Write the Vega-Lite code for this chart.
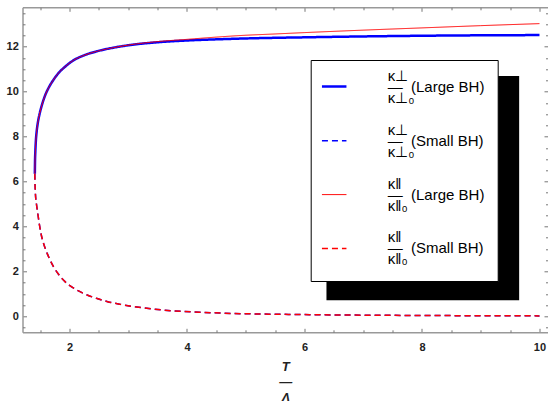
{
  "$schema": "https://vega.github.io/schema/vega-lite/v6.json",
  "width": 525.5,
  "height": 325,
  "autosize": {"type": "none"},
  "padding": {"left": 22.5, "top": 7.3, "right": 0, "bottom": 68.7},
  "background": "white",
  "config": {"view": {"stroke": null}, "font": "Liberation Sans"},
  "datasets": {
    "large_perp": [
      {"series": "pL", "T": 1.410, "k": 6.35},
      {"series": "pL", "T": 1.413, "k": 6.9},
      {"series": "pL", "T": 1.418, "k": 7.3},
      {"series": "pL", "T": 1.426, "k": 7.75},
      {"series": "pL", "T": 1.44, "k": 8.2},
      {"series": "pL", "T": 1.46, "k": 8.6},
      {"series": "pL", "T": 1.49, "k": 9.0},
      {"series": "pL", "T": 1.53, "k": 9.4},
      {"series": "pL", "T": 1.58, "k": 9.8},
      {"series": "pL", "T": 1.64, "k": 10.15},
      {"series": "pL", "T": 1.72, "k": 10.5},
      {"series": "pL", "T": 1.81, "k": 10.82},
      {"series": "pL", "T": 1.92, "k": 11.1},
      {"series": "pL", "T": 2.07, "k": 11.4},
      {"series": "pL", "T": 2.25, "k": 11.62},
      {"series": "pL", "T": 2.47, "k": 11.8},
      {"series": "pL", "T": 2.75, "k": 11.96},
      {"series": "pL", "T": 3.04, "k": 12.08},
      {"series": "pL", "T": 3.5, "k": 12.2},
      {"series": "pL", "T": 4.0, "k": 12.28},
      {"series": "pL", "T": 4.5, "k": 12.33},
      {"series": "pL", "T": 5.0, "k": 12.37},
      {"series": "pL", "T": 6.0, "k": 12.42},
      {"series": "pL", "T": 7.0, "k": 12.46},
      {"series": "pL", "T": 8.0, "k": 12.49},
      {"series": "pL", "T": 9.0, "k": 12.51},
      {"series": "pL", "T": 10.0, "k": 12.52}
    ],
    "large_par": [
      {"series": "qL", "T": 1.410, "k": 6.35},
      {"series": "qL", "T": 1.413, "k": 6.9},
      {"series": "qL", "T": 1.418, "k": 7.3},
      {"series": "qL", "T": 1.426, "k": 7.75},
      {"series": "qL", "T": 1.44, "k": 8.2},
      {"series": "qL", "T": 1.46, "k": 8.6},
      {"series": "qL", "T": 1.49, "k": 9.0},
      {"series": "qL", "T": 1.53, "k": 9.4},
      {"series": "qL", "T": 1.58, "k": 9.8},
      {"series": "qL", "T": 1.64, "k": 10.15},
      {"series": "qL", "T": 1.72, "k": 10.5},
      {"series": "qL", "T": 1.81, "k": 10.82},
      {"series": "qL", "T": 1.92, "k": 11.1},
      {"series": "qL", "T": 2.07, "k": 11.4},
      {"series": "qL", "T": 2.25, "k": 11.62},
      {"series": "qL", "T": 2.47, "k": 11.8},
      {"series": "qL", "T": 2.75, "k": 11.96},
      {"series": "qL", "T": 3.04, "k": 12.09},
      {"series": "qL", "T": 3.5, "k": 12.23},
      {"series": "qL", "T": 4.0, "k": 12.33},
      {"series": "qL", "T": 4.5, "k": 12.43},
      {"series": "qL", "T": 4.91, "k": 12.5},
      {"series": "qL", "T": 5.5, "k": 12.57},
      {"series": "qL", "T": 6.0, "k": 12.63},
      {"series": "qL", "T": 7.0, "k": 12.74},
      {"series": "qL", "T": 8.0, "k": 12.84},
      {"series": "qL", "T": 9.0, "k": 12.94},
      {"series": "qL", "T": 10.0, "k": 13.03}
    ],
    "small_perp": [
      {"series": "pS", "T": 1.410, "k": 6.35},
      {"series": "pS", "T": 1.412, "k": 6.0},
      {"series": "pS", "T": 1.415, "k": 5.75},
      {"series": "pS", "T": 1.42, "k": 5.45},
      {"series": "pS", "T": 1.44, "k": 4.95},
      {"series": "pS", "T": 1.46, "k": 4.58},
      {"series": "pS", "T": 1.49, "k": 4.05},
      {"series": "pS", "T": 1.52, "k": 3.62},
      {"series": "pS", "T": 1.57, "k": 3.15},
      {"series": "pS", "T": 1.62, "k": 2.8},
      {"series": "pS", "T": 1.67, "k": 2.5},
      {"series": "pS", "T": 1.73, "k": 2.2},
      {"series": "pS", "T": 1.81, "k": 1.88},
      {"series": "pS", "T": 1.9, "k": 1.6},
      {"series": "pS", "T": 2.0, "k": 1.38},
      {"series": "pS", "T": 2.13, "k": 1.16},
      {"series": "pS", "T": 2.3, "k": 0.95},
      {"series": "pS", "T": 2.47, "k": 0.79},
      {"series": "pS", "T": 2.65, "k": 0.65},
      {"series": "pS", "T": 2.87, "k": 0.53},
      {"series": "pS", "T": 3.1, "k": 0.43},
      {"series": "pS", "T": 3.43, "k": 0.32},
      {"series": "pS", "T": 3.9, "k": 0.22},
      {"series": "pS", "T": 4.3, "k": 0.17},
      {"series": "pS", "T": 4.8, "k": 0.125},
      {"series": "pS", "T": 5.4, "k": 0.095},
      {"series": "pS", "T": 6.0, "k": 0.075},
      {"series": "pS", "T": 7.0, "k": 0.05},
      {"series": "pS", "T": 8.0, "k": 0.035},
      {"series": "pS", "T": 9.0, "k": 0.025},
      {"series": "pS", "T": 10.0, "k": 0.018}
    ],
    "small_par": [
      {"series": "qS", "T": 1.410, "k": 6.35},
      {"series": "qS", "T": 1.412, "k": 6.0},
      {"series": "qS", "T": 1.415, "k": 5.75},
      {"series": "qS", "T": 1.42, "k": 5.45},
      {"series": "qS", "T": 1.44, "k": 4.95},
      {"series": "qS", "T": 1.46, "k": 4.58},
      {"series": "qS", "T": 1.49, "k": 4.05},
      {"series": "qS", "T": 1.52, "k": 3.62},
      {"series": "qS", "T": 1.57, "k": 3.15},
      {"series": "qS", "T": 1.62, "k": 2.8},
      {"series": "qS", "T": 1.67, "k": 2.5},
      {"series": "qS", "T": 1.73, "k": 2.2},
      {"series": "qS", "T": 1.81, "k": 1.88},
      {"series": "qS", "T": 1.9, "k": 1.6},
      {"series": "qS", "T": 2.0, "k": 1.38},
      {"series": "qS", "T": 2.13, "k": 1.16},
      {"series": "qS", "T": 2.3, "k": 0.95},
      {"series": "qS", "T": 2.47, "k": 0.79},
      {"series": "qS", "T": 2.65, "k": 0.65},
      {"series": "qS", "T": 2.87, "k": 0.53},
      {"series": "qS", "T": 3.1, "k": 0.43},
      {"series": "qS", "T": 3.43, "k": 0.32},
      {"series": "qS", "T": 3.9, "k": 0.22},
      {"series": "qS", "T": 4.3, "k": 0.17},
      {"series": "qS", "T": 4.8, "k": 0.125},
      {"series": "qS", "T": 5.4, "k": 0.095},
      {"series": "qS", "T": 6.0, "k": 0.075},
      {"series": "qS", "T": 7.0, "k": 0.05},
      {"series": "qS", "T": 8.0, "k": 0.035},
      {"series": "qS", "T": 9.0, "k": 0.025},
      {"series": "qS", "T": 10.0, "k": 0.018}
    ],
    "shadow": [
      {"x1": 6.374, "x2": 9.654, "y1": 0.712, "y2": 10.694}
    ]
  },
  "layer": [
    {
      "data": {"name": "shadow"},
      "mark": {"type": "rect", "color": "black"},
      "encoding": {
        "x": {"field": "x1", "type": "quantitative",
          "scale": {"domain": [1.2, 10.145], "nice": false, "zero": false},
          "axis": {"orient": "top", "values": [2, 4, 6, 8, 10], "labels": false, "title": null, "grid": false,
            "tickSize": -4, "tickColor": "#777", "domainColor": "#999", "domainWidth": 1.5}},
        "x2": {"field": "x2"},
        "y": {"field": "y1", "type": "quantitative",
          "scale": {"domain": [-0.713, 13.757], "nice": false, "zero": false},
          "axis": {"orient": "right", "values": [0, 2, 4, 6, 8, 10, 12], "labels": false, "title": null, "grid": false,
            "tickSize": -4, "tickColor": "#777", "domain": false}},
        "y2": {"field": "y2"}
      }
    },
    {
      "data": {"name": "large_perp"},
      "mark": {"type": "line", "interpolate": "monotone"},
      "encoding": {
        "x": {"field": "T", "type": "quantitative",
          "scale": {"domain": [1.2, 10.145], "nice": false, "zero": false},
          "axis": {"orient": "bottom", "values": [2, 4, 6, 8, 10], "grid": false, "tickSize": -4, "tickColor": "#777",
            "domainColor": "#999", "domainWidth": 1.5, "labelPadding": 13, "labelFont": "Liberation Sans",
            "labelFontWeight": "bold", "labelFontSize": 11, "labelColor": "#222", "labelFlush": false, "labelOverlap": false,
            "title": ["T", "—", "Λ"], "titleFont": "Liberation Sans", "titleFontSize": 13, "titleFontWeight": "bold",
            "titleFontStyle": "italic", "titleLineHeight": 15.5, "titlePadding": 8, "titleColor": "#222"}},
        "y": {"field": "k", "type": "quantitative",
          "scale": {"domain": [-0.713, 13.757], "nice": false, "zero": false},
          "axis": {"orient": "left", "values": [0, 2, 4, 6, 8, 10, 12], "grid": false, "tickSize": -4, "tickColor": "#777",
            "domainColor": "#999", "domainWidth": 1.5, "labelPadding": 8.2, "labelFont": "Liberation Sans",
            "labelFontWeight": "bold", "labelFontSize": 11, "labelColor": "#222", "labelFlush": false, "labelOverlap": false,
            "title": null}},
        "color": {"field": "series", "type": "nominal",
          "scale": {"domain": ["pL", "pS", "qL", "qS"], "range": ["#0000ff", "#0000ff", "#ff0000", "#ff0000"]},
          "legend": {"orient": "none", "legendX": 288.2, "legendY": 52.7, "title": null, "symbolType": "stroke",
            "symbolSize": 600, "labelOffset": 40, "labelFontSize": 15, "labelFont": "Liberation Sans", "labelColor": "black",
            "labelLimit": 0, "padding": 13, "rowPadding": 16.8, "strokeColor": "black",
            "fillColor": "white", "symbolOffset": -3,
            "encoding": {"labels": {"lineHeight": {"value": 11}, "dy": {"value": -11}}},
            "labelExpr": "datum.value == 'pL' ? ['κ⊥', '—\u00a0\u00a0(Large BH)\u00a0', 'κ⊥₀'] : datum.value == 'pS' ? ['κ⊥', '—\u00a0\u00a0(Small BH)\u00a0', 'κ⊥₀'] : datum.value == 'qL' ? ['κ‖', '—\u00a0\u00a0(Large BH)\u00a0', 'κ‖₀'] : ['κ‖', '—\u00a0\u00a0(Small BH)\u00a0', 'κ‖₀']"}},
        "strokeDash": {"field": "series", "type": "nominal",
          "scale": {"domain": ["pL", "pS", "qL", "qS"], "range": [[1, 0], [6, 4], [1, 0], [6, 4]]}},
        "strokeWidth": {"field": "series", "type": "nominal",
          "scale": {"type": "ordinal", "domain": ["pL", "pS", "qL", "qS"], "range": [2.5, 1.5, 1, 1.5]}}
      }
    },
    {
      "data": {"name": "small_perp"},
      "mark": {"type": "line", "interpolate": "monotone"},
      "encoding": {
        "x": {"field": "T", "type": "quantitative",
          "scale": {"domain": [1.2, 10.145], "nice": false, "zero": false}, "axis": null},
        "y": {"field": "k", "type": "quantitative",
          "scale": {"domain": [-0.713, 13.757], "nice": false, "zero": false}, "axis": null},
        "color": {"field": "series", "type": "nominal",
          "scale": {"domain": ["pL", "pS", "qL", "qS"], "range": ["#0000ff", "#0000ff", "#ff0000", "#ff0000"]}},
        "strokeDash": {"field": "series", "type": "nominal",
          "scale": {"domain": ["pL", "pS", "qL", "qS"], "range": [[1, 0], [6, 4], [1, 0], [6, 4]]}},
        "strokeWidth": {"field": "series", "type": "nominal",
          "scale": {"type": "ordinal", "domain": ["pL", "pS", "qL", "qS"], "range": [2.5, 1.5, 1, 1.5]}}
      }
    },
    {
      "data": {"name": "small_par"},
      "mark": {"type": "line", "interpolate": "monotone"},
      "encoding": {
        "x": {"field": "T", "type": "quantitative",
          "scale": {"domain": [1.2, 10.145], "nice": false, "zero": false},
          "axis": {"orient": "bottom", "values": [1.5, 2.5, 3, 3.5, 4.5, 5, 5.5, 6.5, 7, 7.5, 8.5, 9, 9.5], "labels": false,
            "domain": false, "grid": false, "title": null, "tickSize": -2.5, "tickColor": "#777"}},
        "y": {"field": "k", "type": "quantitative",
          "scale": {"domain": [-0.713, 13.757], "nice": false, "zero": false},
          "axis": {"orient": "left", "values": [-0.5, 0.5, 1, 1.5, 2.5, 3, 3.5, 4.5, 5, 5.5, 6.5, 7, 7.5, 8.5, 9, 9.5, 10.5, 11, 11.5, 12.5, 13, 13.5],
            "labels": false, "domain": false, "grid": false, "title": null, "tickSize": -2.5, "tickColor": "#777"}},
        "color": {"field": "series", "type": "nominal",
          "scale": {"domain": ["pL", "pS", "qL", "qS"], "range": ["#0000ff", "#0000ff", "#ff0000", "#ff0000"]}},
        "strokeDash": {"field": "series", "type": "nominal",
          "scale": {"domain": ["pL", "pS", "qL", "qS"], "range": [[1, 0], [6, 4], [1, 0], [6, 4]]}},
        "strokeWidth": {"field": "series", "type": "nominal",
          "scale": {"type": "ordinal", "domain": ["pL", "pS", "qL", "qS"], "range": [2.5, 1.5, 1, 1.5]}}
      }
    },
    {
      "data": {"name": "large_par"},
      "mark": {"type": "line", "interpolate": "monotone"},
      "encoding": {
        "x": {"field": "T", "type": "quantitative",
          "scale": {"domain": [1.2, 10.145], "nice": false, "zero": false},
          "axis": {"orient": "top", "values": [1.5, 2.5, 3, 3.5, 4.5, 5, 5.5, 6.5, 7, 7.5, 8.5, 9, 9.5], "labels": false,
            "domain": false, "grid": false, "title": null, "tickSize": -2.5, "tickColor": "#777"}},
        "y": {"field": "k", "type": "quantitative",
          "scale": {"domain": [-0.713, 13.757], "nice": false, "zero": false},
          "axis": {"orient": "right", "values": [-0.5, 0.5, 1, 1.5, 2.5, 3, 3.5, 4.5, 5, 5.5, 6.5, 7, 7.5, 8.5, 9, 9.5, 10.5, 11, 11.5, 12.5, 13, 13.5],
            "labels": false, "domain": false, "grid": false, "title": null, "tickSize": -2.5, "tickColor": "#777"}},
        "color": {"field": "series", "type": "nominal",
          "scale": {"domain": ["pL", "pS", "qL", "qS"], "range": ["#0000ff", "#0000ff", "#ff0000", "#ff0000"]}},
        "strokeDash": {"field": "series", "type": "nominal",
          "scale": {"domain": ["pL", "pS", "qL", "qS"], "range": [[1, 0], [6, 4], [1, 0], [6, 4]]}},
        "strokeWidth": {"field": "series", "type": "nominal",
          "scale": {"type": "ordinal", "domain": ["pL", "pS", "qL", "qS"], "range": [2.5, 1.5, 1, 1.5]}}
      }
    }
  ],
  "resolve": {"axis": {"x": "independent", "y": "independent"}}
}
